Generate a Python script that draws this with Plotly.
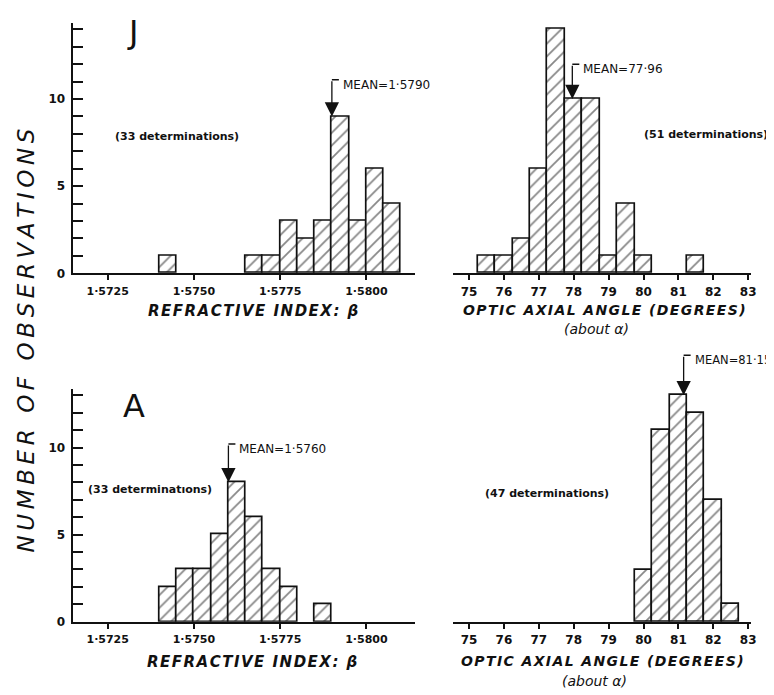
import plotly.graph_objects as go

W, H = 774, 695

# ---------------- data ----------------
ri_bin_width = 0.0005
ang_bin_width = 0.5

j_ri_centers = [1.57425, 1.57675, 1.57725, 1.57775, 1.57825, 1.57875, 1.57925, 1.57975, 1.58025, 1.58075]
j_ri_counts = [1, 1, 1, 3, 2, 3, 9, 3, 6, 4]

j_ang_centers = [75.5, 76.0, 76.5, 77.0, 77.5, 78.0, 78.5, 79.0, 79.5, 80.0, 81.5]
j_ang_counts = [1, 1, 2, 6, 14, 10, 10, 1, 4, 1, 1]

a_ri_centers = [1.57425, 1.57475, 1.57525, 1.57575, 1.57625, 1.57675, 1.57725, 1.57775, 1.57875]
a_ri_counts = [2, 3, 3, 5, 8, 6, 3, 2, 1]

a_ang_centers = [80.0, 80.5, 81.0, 81.5, 82.0, 82.5]
a_ang_counts = [3, 11, 13, 12, 7, 1]

means = [1.5790, 77.96, 1.5760, 81.15]
mean_labels = ["MEAN=1·5790", "MEAN=77·96", "MEAN=1·5760", "MEAN=81·15"]
determination_labels = ["(33 determinations)", "(51 determinations)",
                        "(33 determinatıons)", "(47 determinations)"]
panel_letters = ["J", "A"]

ri_tickvals = [1.5725, 1.5750, 1.5775, 1.5800]
ri_ticktext = ["1·5725", "1·5750", "1·5775", "1·5800"]
ang_tickvals = [75, 76, 77, 78, 79, 80, 81, 82, 83]
ang_ticktext = ["75", "76", "77", "78", "79", "80", "81", "82", "83"]

ri_title = "REFRACTIVE INDEX: β"
ang_title = "OPTIC AXIAL ANGLE (DEGREES)"
ang_subtitle = "(about α)"
y_title = "NUMBER OF OBSERVATIONS"

# ---------------- layout helpers (pixels) ----------------
def px_x(p):
    return p / W

def px_y(p):
    return 1 - p / H

def spaced(s, sep="\u2009"):
    return sep.join(list(s))

FONT = "DejaVu Sans"
INK = "#111111"

panels = [
    # centers, counts, width, xaxis, yaxis
    (j_ri_centers, j_ri_counts, ri_bin_width, "x", "y"),
    (j_ang_centers, j_ang_counts, ang_bin_width, "x2", "y2"),
    (a_ri_centers, a_ri_counts, ri_bin_width, "x3", "y3"),
    (a_ang_centers, a_ang_counts, ang_bin_width, "x4", "y4"),
]

fig = go.Figure()
for centers, counts, wd, xa, ya in panels:
    fig.add_trace(go.Bar(
        x=centers, y=counts, width=wd, xaxis=xa, yaxis=ya,
        marker=dict(color="white",
                    line=dict(color=INK, width=1.7),
                    pattern=dict(shape="/", fgcolor=INK, bgcolor="white",
                                 size=9, solidity=0.2)),
        showlegend=False, hoverinfo="skip",
    ))

# axis geometry
top_base, bot_base = 268, 620
top_ymax, bot_ymax, br_ymax = 14.37, 13.35, 16.0
unit_bot = 17.6
left_dom = [px_x(65), px_x(410)]
right_dom = [px_x(448), px_x(748)]
ri_range = [1.571482, 1.58142]
ang_range = [74.544, 83.085]

common_x = dict(showline=True, linecolor=INK, linewidth=2, ticks="outside",
                ticklen=5, tickwidth=1.6, tickcolor=INK, showgrid=False,
                zeroline=False, tickmode="array", ticklabelstandoff=1,
                tickfont=dict(family=FONT, size=11, color=INK, weight="bold"))
left_y = dict(showline=True, linecolor=INK, linewidth=2, ticks="inside",
              ticklen=10, tickwidth=1.6, tickcolor=INK, showgrid=False,
              zeroline=False, tickmode="linear", tick0=0, dtick=5,
              ticklabelstandoff=3,
              tickfont=dict(family=FONT, size=12, color=INK, weight="bold"),
              minor=dict(dtick=1, tick0=0, ticks="inside", ticklen=10,
                         tickwidth=1.6, tickcolor=INK, showgrid=False))
hidden_y = dict(visible=False, showgrid=False, zeroline=False)

fig.update_layout(
    width=W, height=H, margin=dict(l=0, r=0, t=0, b=0),
    paper_bgcolor="white", plot_bgcolor="rgba(0,0,0,0)",
    bargap=0, barmode="overlay", showlegend=False,
    xaxis=dict(common_x, domain=left_dom, range=ri_range, anchor="y",
               tickvals=ri_tickvals, ticktext=ri_ticktext),
    yaxis=dict(left_y, domain=[px_y(top_base), px_y(15)], range=[0, top_ymax], anchor="x"),
    xaxis2=dict(common_x, domain=right_dom, range=ang_range, anchor="y2",
                tickvals=ang_tickvals, ticktext=ang_ticktext,
                tickfont=dict(family=FONT, size=12, color=INK, weight="bold")),
    yaxis2=dict(hidden_y, domain=[px_y(top_base), px_y(15)], range=[0, top_ymax], anchor="x2"),
    xaxis3=dict(common_x, domain=left_dom, range=ri_range, anchor="y3",
                tickvals=ri_tickvals, ticktext=ri_ticktext),
    yaxis3=dict(left_y, domain=[px_y(bot_base), px_y(bot_base - bot_ymax * unit_bot)],
                range=[0, bot_ymax], anchor="x3"),
    xaxis4=dict(common_x, domain=right_dom, range=ang_range, anchor="y4",
                tickvals=ang_tickvals, ticktext=ang_ticktext,
                tickfont=dict(family=FONT, size=12, color=INK, weight="bold")),
    yaxis4=dict(hidden_y, domain=[px_y(bot_base), px_y(bot_base - br_ymax * unit_bot)],
                range=[0, br_ymax], anchor="x4"),
)

annotations = []
shapes = []

# mean arrows with bracket and label
bracket_rise = [2.1, 2.0, 2.2, 2.3]
mean_font_sizes = [12, 12, 12, 11.5]
for (centers, counts, wd, xa, ya), m, lab, rise, fs in zip(
        panels, means, mean_labels, bracket_rise, mean_font_sizes):
    tip = max(c for x, c in zip(centers, counts) if abs(x - m) <= wd / 2 + 1e-9)
    top = tip + rise
    annotations.append(dict(x=m, y=tip, xref=xa, yref=ya, ax=m, ay=top,
                            axref=xa, ayref=ya, showarrow=True, arrowhead=2,
                            arrowsize=2.2, arrowwidth=1.3, arrowcolor=INK,
                            standoff=0, text=""))
    shapes.append(dict(type="line", xref=xa, yref=ya, xsizemode="pixel",
                       xanchor=m, x0=0, x1=7, y0=top, y1=top,
                       line=dict(color=INK, width=1.5)))
    annotations.append(dict(x=m, y=top, xref=xa, yref=ya, xanchor="left",
                            yanchor="middle", xshift=9, yshift=-5,
                            showarrow=False, text=lab,
                            font=dict(family=FONT, size=fs, color=INK)))

# determination counts
det_pos = [(170, 130), (703, 128), (143, 486), (543, 490)]
for lab, (px, py) in zip(determination_labels, det_pos):
    annotations.append(dict(x=px_x(px), y=px_y(py), xref="paper", yref="paper",
                            xanchor="center", yanchor="middle", showarrow=False,
                            text=lab, font=dict(family=FONT, size=11, color=INK,
                                                weight="bold")))

# panel letters
for lab, (px, py) in zip(panel_letters, [(125, 24), (127, 402)]):
    annotations.append(dict(x=px_x(px), y=px_y(py), xref="paper", yref="paper",
                            xanchor="center", yanchor="middle", showarrow=False,
                            text=lab, font=dict(family=FONT, size=32, color=INK)))

# axis titles
for px, py in [(247, 306), (246, 661)]:
    annotations.append(dict(x=px_x(px), y=px_y(py), xref="paper", yref="paper",
                            xanchor="center", yanchor="middle", showarrow=False,
                            text="<b><i>" + spaced(ri_title, "\u200a") + "</i></b>",
                            font=dict(family=FONT, size=15, color=INK)))
for px, py, py2 in [(600, 305, 324), (598, 660, 680)]:
    annotations.append(dict(x=px_x(px), y=px_y(py), xref="paper", yref="paper",
                            xanchor="center", yanchor="middle", showarrow=False,
                            text="<b><i>" + spaced(ang_title, "\u200a") + "</i></b>",
                            font=dict(family=FONT, size=14, color=INK)))
    annotations.append(dict(x=px_x(px - 8), y=px_y(py2), xref="paper", yref="paper",
                            xanchor="center", yanchor="middle", showarrow=False,
                            text="<i>" + ang_subtitle + "</i>",
                            font=dict(family=FONT, size=14, color=INK)))

# shared y title
annotations.append(dict(x=px_x(18), y=px_y(336), xref="paper", yref="paper",
                        xanchor="center", yanchor="middle", showarrow=False,
                        textangle=-90, text="<i>" + spaced(y_title) + "</i>",
                        font=dict(family=FONT, size=23, color=INK)))

fig.update_layout(annotations=annotations, shapes=shapes)
fig.write_html("out.html")
